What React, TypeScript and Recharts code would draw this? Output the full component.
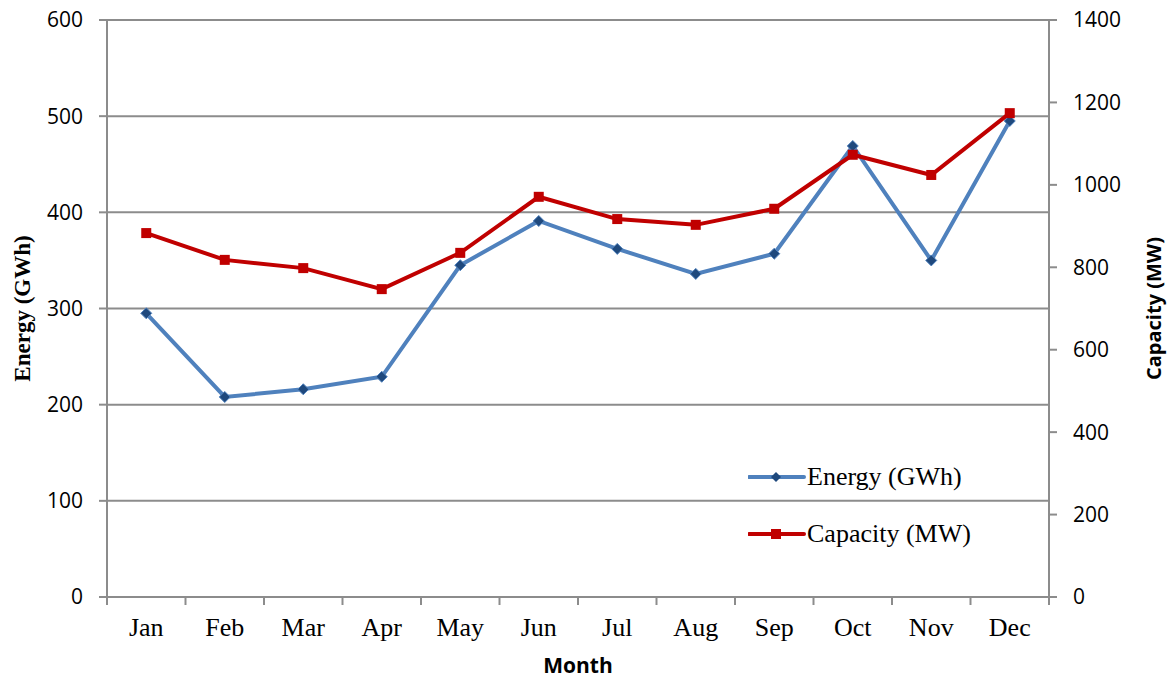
import { LineChart, Line, XAxis, YAxis, CartesianGrid, Legend } from "recharts";

const MONTHS = ["Jan", "Feb", "Mar", "Apr", "May", "Jun", "Jul", "Aug", "Sep", "Oct", "Nov", "Dec"];
const ENERGY_GWH = [295, 208, 216, 229, 345, 391, 362, 336, 357, 469, 350, 495];
const CAPACITY_MW = [883, 818, 798, 747, 835, 971, 917, 903, 942, 1073, 1024, 1174];
const LEFT_TICKS = [0, 100, 200, 300, 400, 500, 600];
const RIGHT_TICKS = [0, 200, 400, 600, 800, 1000, 1200, 1400];
const SERIES_ORDER = ["energy", "capacity"];

const data = MONTHS.map((m, i) => ({ month: m, energy: ENERGY_GWH[i], capacity: CAPACITY_MW[i] }));

const W = 1167;
const H = 681;
const LEFT_W = 107;
const RIGHT_W = 118;
const PLOT_W = W - LEFT_W - RIGHT_W;
const HALF_BAND = PLOT_W / MONTHS.length / 2;
const GRID = "#8c8c8c";
const BLUE = "#4f81bd";
const RED = "#c00000";
const SANS = "'Open Sans', sans-serif";
const SERIF = "'Liberation Serif', 'Times New Roman', serif";

// category ticks sit between months, so draw them ourselves
const MonthTick = (props: any) => {
  const { x, y, payload, index } = props;
  const axisY = y - 20;
  return (
    <g>
      <line x1={x - HALF_BAND} x2={x - HALF_BAND} y1={axisY} y2={axisY + 8} stroke={GRID} strokeWidth={2} />
      {index === MONTHS.length - 1 && (
        <line x1={x + HALF_BAND} x2={x + HALF_BAND} y1={axisY} y2={axisY + 8} stroke={GRID} strokeWidth={2} />
      )}
      <text x={x} y={y + 19} textAnchor="middle" style={{ fontFamily: SERIF, fontSize: 26 }} fill="#000">
        {payload.value}
      </text>
    </g>
  );
};

// rotated axis title; side picks where in the axis box it sits
const AxisTitle = (props: any) => {
  const { viewBox, text, side, font, size } = props;
  if (!viewBox) return null;
  const cx = side === "left" ? viewBox.x + 22 : viewBox.x + viewBox.width - 14;
  const cy = viewBox.y + viewBox.height / 2;
  return (
    <text
      x={cx}
      y={cy}
      transform={`rotate(-90, ${cx}, ${cy})`}
      textAnchor="middle"
      dominantBaseline="central"
      style={{ fontFamily: font, fontWeight: 700, fontSize: size }}
      fill="#000"
    >
      {text}
    </text>
  );
};

const Diamond = (props: any) => {
  const { cx, cy } = props;
  if (cx == null || cy == null) return null;
  const r = 5.5;
  return (
    <path
      d={`M${cx},${cy - r} L${cx + r},${cy} L${cx},${cy + r} L${cx - r},${cy} Z`}
      fill="#1f497d"
      stroke={BLUE}
      strokeWidth={1}
    />
  );
};

const Square = (props: any) => {
  const { cx, cy } = props;
  if (cx == null || cy == null) return null;
  return <rect x={cx - 5} y={cy - 5} width={10} height={10} fill={RED} />;
};

const LegendBox = (props: any) => {
  const items = [...(props.payload || [])].sort(
    (a: any, b: any) => SERIES_ORDER.indexOf(a.dataKey) - SERIES_ORDER.indexOf(b.dataKey)
  );
  return (
    <div>
      {items.map((it: any) => (
        <div key={it.value} style={{ display: "flex", alignItems: "center", height: 57 }}>
          <svg width={59} height={14}>
            <line x1={1} x2={56} y1={7} y2={7} stroke={it.color} strokeWidth={4} strokeLinecap="round" />
            {it.dataKey === "energy" ? (
              <path d="M28,2 L33,7 L28,12 L23,7 Z" fill="#1f497d" />
            ) : (
              <rect x={23} y={2} width={10} height={10} fill={RED} />
            )}
          </svg>
          <span style={{ fontFamily: SERIF, fontSize: 26, color: "#000" }}>{it.value}</span>
        </div>
      ))}
    </div>
  );
};

export default function App() {
  return (
    <div style={{ position: "absolute", left: 0, top: 0, width: W, height: H, background: "#fff" }}>
      <LineChart width={W} height={H} data={data} margin={{ top: 20, right: 0, left: 0, bottom: 0 }}>
        <CartesianGrid vertical={false} stroke={GRID} strokeWidth={2} yAxisId="left" />
        <XAxis
          dataKey="month"
          height={84}
          padding={{ left: HALF_BAND, right: HALF_BAND }}
          tickLine={false}
          tickSize={0}
          tickMargin={20}
          stroke={GRID}
          strokeWidth={2}
          tick={<MonthTick />}
          interval={0}
          label={{ value: "Month", position: "insideBottom", offset: 8, fontWeight: 700, fontSize: 21, fill: "#000", style: { fontFamily: SANS } }}
        />
        <YAxis
          yAxisId="left"
          width={LEFT_W}
          domain={[0, 600]}
          ticks={LEFT_TICKS}
          tickSize={8}
          tickMargin={16}
          stroke={GRID}
          strokeWidth={2}
          tick={{ fontFamily: SANS, fontSize: 21, fill: "#000" }}
          label={<AxisTitle text="Energy (GWh)" side="left" font={SERIF} size={23} />}
        />
        <YAxis
          yAxisId="right"
          orientation="right"
          width={RIGHT_W}
          domain={[0, 1400]}
          ticks={RIGHT_TICKS}
          tickSize={8}
          tickMargin={16}
          stroke={GRID}
          strokeWidth={2}
          tick={{ fontFamily: SANS, fontSize: 21, fill: "#000", textAnchor: "start" }}
          label={<AxisTitle text="Capacity (MW)" side="right" font={SANS} size={20} />}
        />
        <Legend
          layout="vertical"
          align="center"
          verticalAlign="middle"
          content={<LegendBox />}
          wrapperStyle={{ position: "absolute", left: 748, top: 448, width: 260 }}
        />
        <Line
          yAxisId="left"
          dataKey="energy"
          name="Energy (GWh)"
          stroke={BLUE}
          strokeWidth={4}
          dot={<Diamond />}
          activeDot={false}
          isAnimationActive={false}
        />
        <Line
          yAxisId="right"
          dataKey="capacity"
          name="Capacity (MW)"
          stroke={RED}
          strokeWidth={4}
          dot={<Square />}
          activeDot={false}
          isAnimationActive={false}
        />
      </LineChart>
    </div>
  );
}
